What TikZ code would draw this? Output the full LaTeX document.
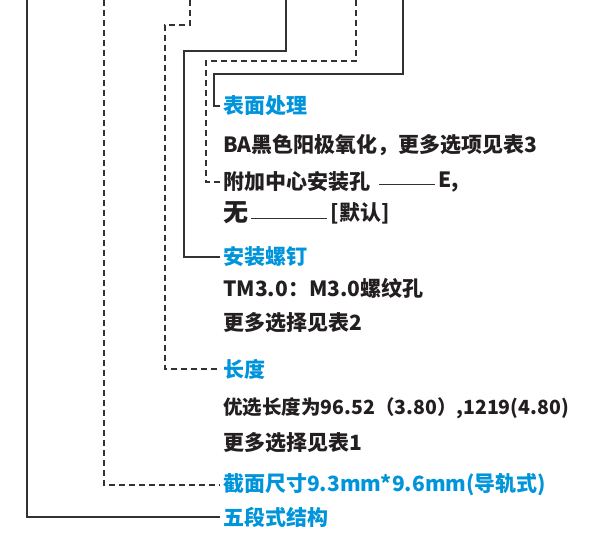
\documentclass[tikz,border=0pt]{standalone}
\usepackage{fontspec}
\setmainfont{Noto Sans CJK SC}
\usetikzlibrary{positioning}
\definecolor{titleblue}{RGB}{0,148,218}
\definecolor{ink}{RGB}{35,31,32}
\definecolor{wire}{RGB}{50,50,50}

\begin{document}
\begin{tikzpicture}[x=1pt, y=-1pt,
  title/.style    = {anchor=west, inner xsep=3pt, font=\fontsize{21}{21}\selectfont\bfseries, text=titleblue},
  desc/.style     = {anchor=west, inner xsep=3pt, font=\fontsize{21}{21}\selectfont\bfseries, text=ink},
  solidwire/.style = {draw=wire, line width=1.9pt},
  dashwire/.style  = {draw=wire, line width=1.9pt, dash pattern=on 6pt off 4pt},
  thinwire/.style  = {draw=wire, line width=0.9pt}]
 \useasboundingbox (0,0) rectangle (590,534);

 % free tops of the leader lines
 \coordinate (T1) at (27,0);
 \coordinate (T2) at (104,0);
 \coordinate (T3) at (190,0);
 \coordinate (T4) at (286,0);
 \coordinate (T5) at (356,0);
 \coordinate (T6) at (403,0);

 % surface
 \node[title, name=surf  ] at (220,106) {表面处理};
 \node[desc,  name=BA    ] at (220,145) {BA黑色阳极氧化，更多选项见表3};
 \node[desc,  name=hole  ] at (220,182) {附加中心安装孔};
 \node[desc,  name=eopt, right=62pt of hole] {E,};
 \node[desc,  name=none, font=\fontsize{25}{25}\selectfont\bfseries] at (220,213) {无};
 \node[desc,  name=dflt, right=76pt of none] {[默认]};
 % screws
 \node[title, name=screw ] at (220,257) {安装螺钉};
 \node[desc,  name=TM    ] at (220,288) {TM3.0：M3.0螺纹孔};
 \node[desc,  name=more2 ] at (220,323) {更多选择见表2};
 % length
 \node[title, name=length] at (220,369) {长度};
 \node[desc,  name=pref, font=\fontsize{19.5}{19.5}\selectfont\bfseries] at (220,408) {优选长度为96.52（3.80）,1219(4.80)};
 \node[desc,  name=more1 ] at (220,443) {更多选择见表1};
 % section and structure
 \node[title, name=section] at (220,485) {截面尺寸9.3mm*9.6mm(导轨式)};
 \node[title, name=struct ] at (220,517) {五段式结构};

 \draw[solidwire] (T1) |- (struct.west);
 \draw[dashwire]  (T2) |- (section.west);
 \draw[dashwire]  (T3) |- (165,25) |- (length.west);
 \draw[solidwire] (T4) |- (184,51) |- (screw.west);
 \draw[dashwire]  (T5) |- (206,61) |- (hole.west);
 \draw[solidwire] (T6) |- (214,74) |- (surf.west);

 \draw[thinwire] ([xshift=6pt,yshift=-2pt]hole.east) -- ([yshift=-2pt]eopt.west);
 \draw[thinwire] ([yshift=-5pt]none.east) -- ([yshift=-5pt]dflt.west);
\end{tikzpicture}
\end{document}
